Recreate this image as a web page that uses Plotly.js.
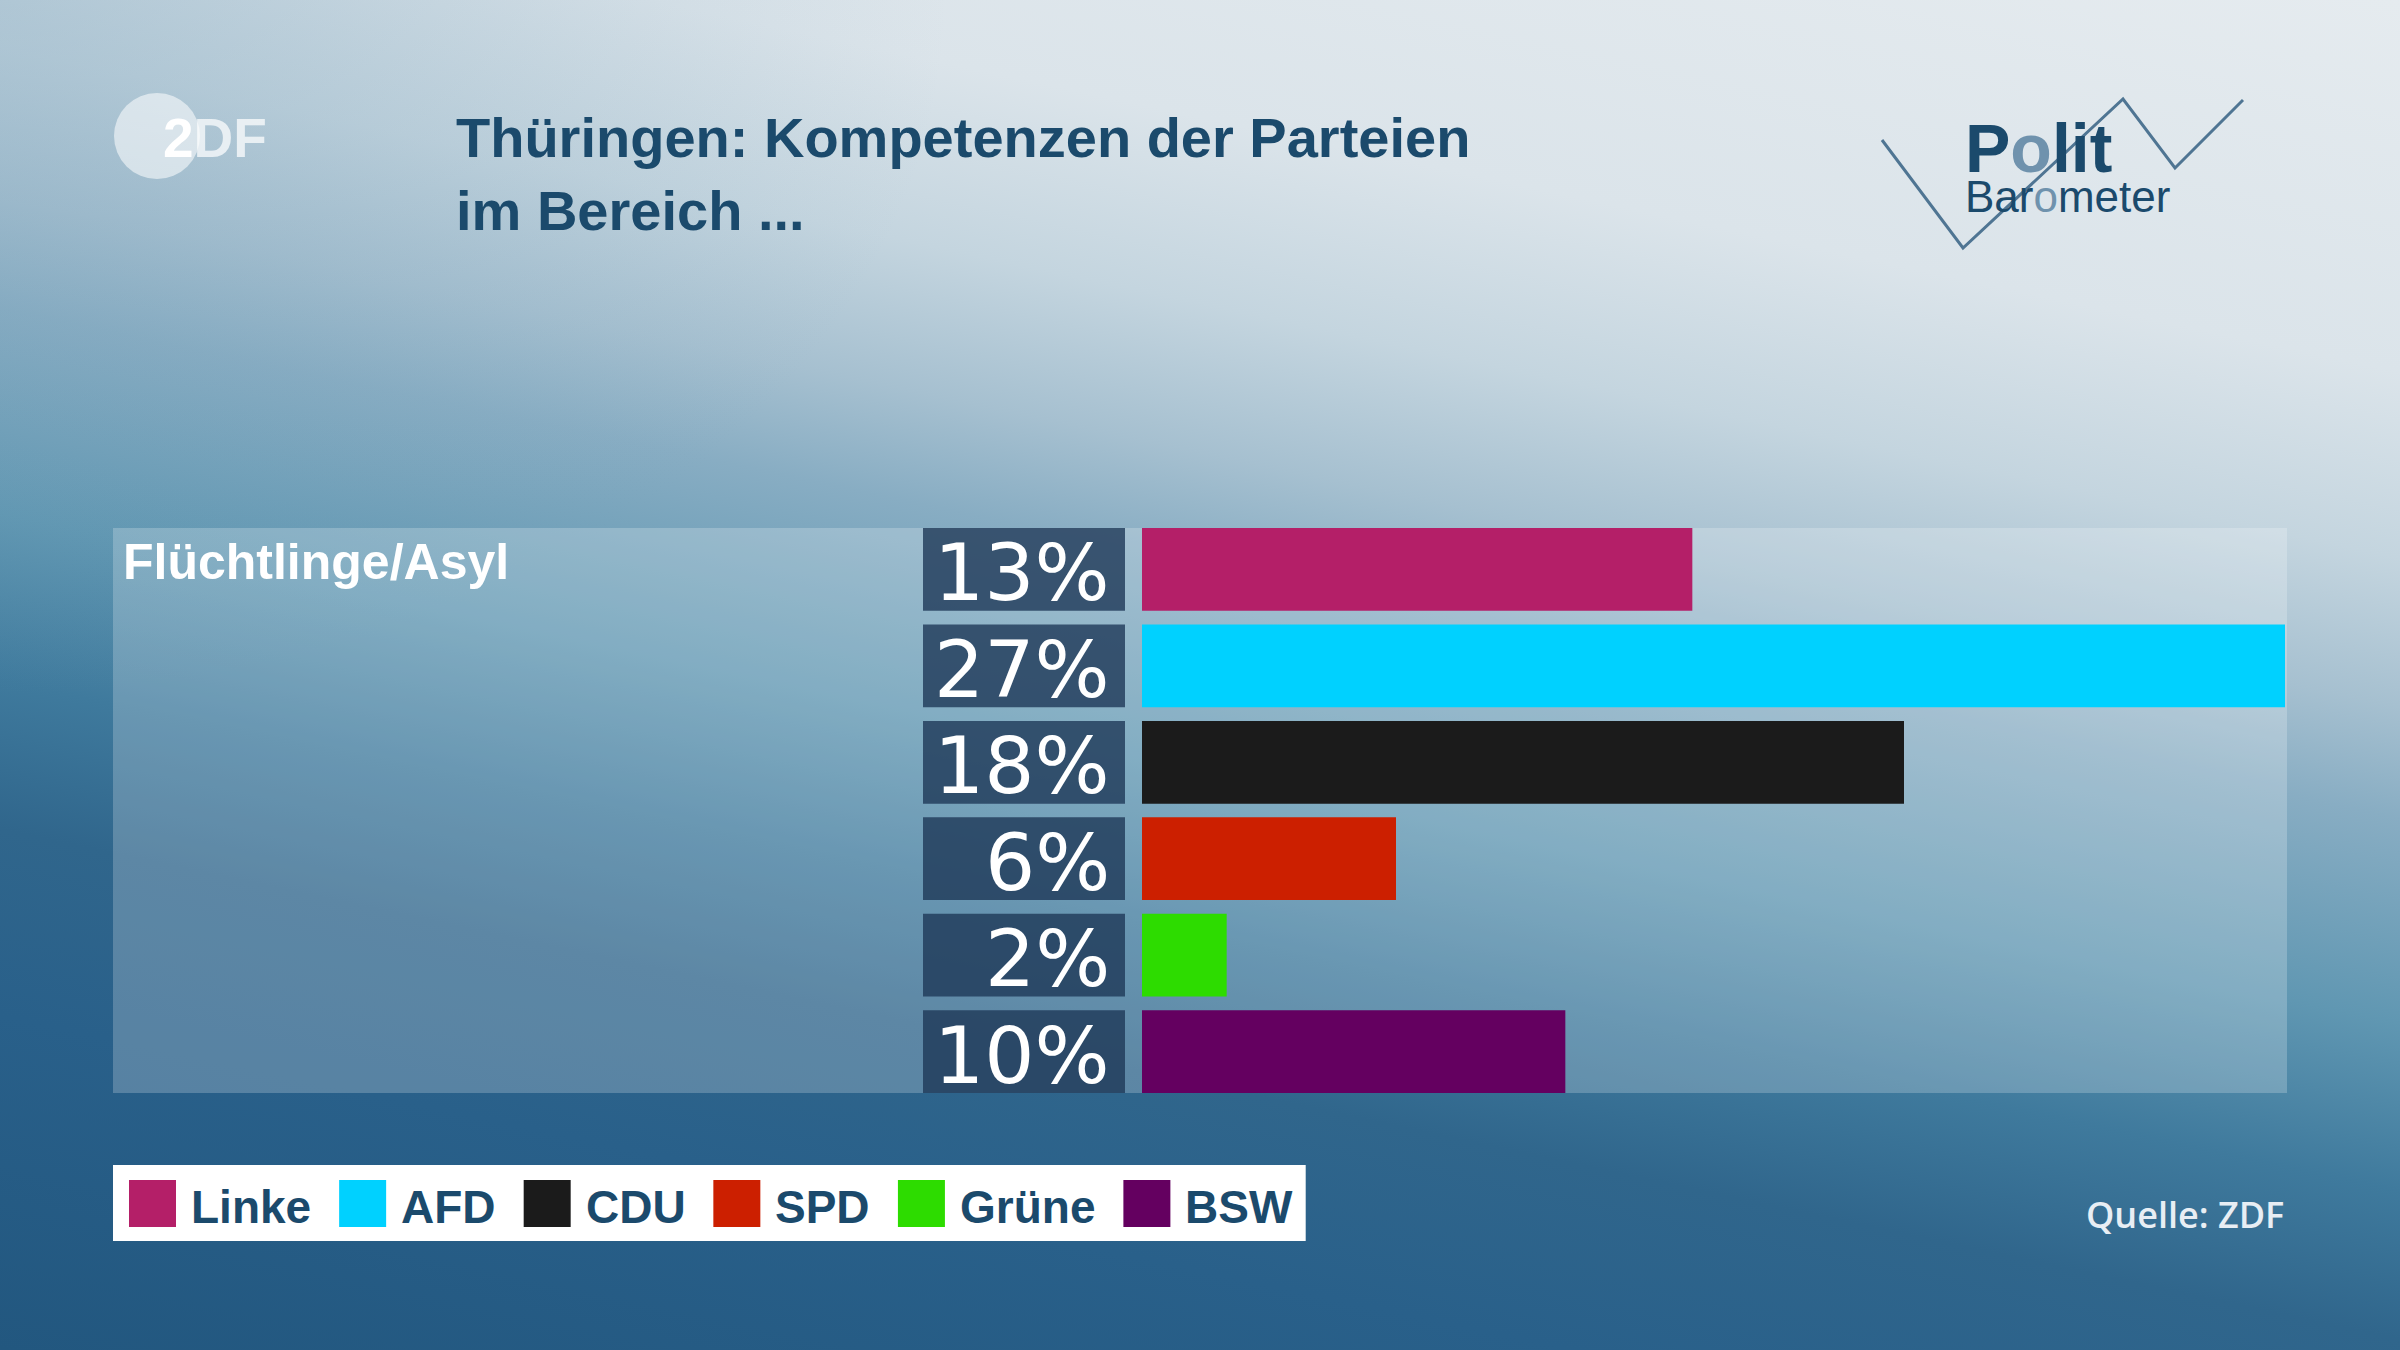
<!DOCTYPE html>
<html><head><meta charset="utf-8">
<script src="https://cdn.plot.ly/plotly-3.0.1.min.js"></script>
<style>
html,body{margin:0;padding:0;width:2400px;height:1350px;overflow:hidden;}
body{background:
  radial-gradient(ellipse 950px 700px at 0% 0%, rgba(120,160,185,0.32), rgba(120,160,185,0) 100%),
  linear-gradient(192deg, #e5ebef 0%, #dbe4ea 20%, #c4d5df 30%, #a6c0d0 38%, #88adc3 44%, #6097b2 55%, #3f7a9d 64%, #30668c 72%, #29608a 82%, #22577f 100%);}
#chart{width:2400px;height:1350px;}
</style></head><body><div id="chart"></div>
<script>
// ---- data ----
const titleText = 'Thüringen: Kompetenzen der Parteien<br>im Bereich ...';
const topic = 'Flüchtlinge/Asyl';
const parties = ['Linke', 'AFD', 'CDU', 'SPD', 'Grüne', 'BSW'];
const values = [13, 27, 18, 6, 2, 10];
const partyColors = ['#b41f68', '#00d1ff', '#1b1b1b', '#cc1f00', '#2ddc00', '#640060'];
const sourceText = 'Quelle: ZDF';

// ---- layout helpers (pixel -> paper) ----
const W = 2400, H = 1350;
const px = x => x / W;
const py = y => 1 - y / H;
const navy = '#1b4a6c';
const lightO = '#6f92ad';

const traces = [
  { // dark label boxes
    type: 'bar', orientation: 'h', y: parties, x: parties.map(() => 1),
    xaxis: 'x2', yaxis: 'y', marker: { color: 'rgba(30,56,88,0.8)' },
    hoverinfo: 'skip', showlegend: false
  },
  { // party bars
    type: 'bar', orientation: 'h', y: parties, x: values,
    xaxis: 'x', yaxis: 'y', marker: { color: partyColors },
    hoverinfo: 'skip', showlegend: false
  }
];

const shapes = [];
const annotations = [];

// percentage labels in the dark boxes
parties.forEach((p, i) => {
  annotations.push({ xref: 'x2', yref: 'y', x: 0.935, y: p, xanchor: 'right', yanchor: 'middle',
    yshift: -4, text: values[i] + '%', showarrow: false,
    font: { family: 'DejaVu Sans', size: 79, color: '#ffffff' } });
});

// ---- legend built from parties / colors, spaced by measured text widths ----
const legendFont = { family: 'Liberation Sans', size: 46, color: navy, weight: 'bold' };
const cv = document.createElement('canvas').getContext('2d');
cv.font = 'bold 46px "Liberation Sans"';
let lx = 129;
const swTop = 1180, swSize = 47;
parties.forEach((p, i) => {
  shapes.push({ type: 'rect', xref: 'paper', yref: 'paper', layer: 'above',
    x0: px(lx), x1: px(lx + swSize), y0: py(swTop + swSize), y1: py(swTop),
    fillcolor: partyColors[i], line: { width: 0 } });
  const tx = lx + swSize + 13;
  annotations.push({ xref: 'paper', yref: 'paper', x: px(tx), y: py(swTop + swSize / 2 + 3),
    xanchor: 'left', yanchor: 'middle', text: p, showarrow: false, font: legendFont });
  const tw = cv.measureText(p).width;
  lx = tx + tw + 30;
});
const legendRight = lx - 30 + 15;

// panel, legend box, ZDF circle (below traces)
shapes.unshift(
  { type: 'rect', xref: 'paper', yref: 'paper', layer: 'below',
    x0: px(113), x1: px(2287), y0: py(1093), y1: py(528),
    fillcolor: 'rgba(255,255,255,0.22)', line: { width: 0 } },
  { type: 'rect', xref: 'paper', yref: 'paper', layer: 'below',
    x0: px(113), x1: px(legendRight), y0: py(1241), y1: py(1165),
    fillcolor: '#ffffff', line: { width: 0 } },
  { type: 'circle', xref: 'paper', yref: 'paper', layer: 'below',
    x0: px(114), x1: px(200), y0: py(179), y1: py(93),
    fillcolor: 'rgba(255,255,255,0.55)', line: { width: 0 } }
);
// Politbarometer zigzag
const zz = [[1882, 140], [1963, 248], [2123, 99], [2175, 168], [2243, 100]];
shapes.push({ type: 'path', xref: 'paper', yref: 'paper', layer: 'above',
  path: zz.map((p, i) => (i ? 'L' : 'M') + px(p[0]) + ',' + py(p[1])).join(' '),
  line: { color: '#4f7593', width: 3 } });

annotations.push(
  { xref: 'paper', yref: 'paper', x: px(121), y: py(562), xanchor: 'left', yanchor: 'middle',
    text: topic, showarrow: false,
    font: { family: 'Liberation Sans', size: 50, color: '#ffffff', weight: 'bold' } },
  { xref: 'paper', yref: 'paper', x: px(161), y: py(138), xanchor: 'left', yanchor: 'middle',
    text: '2<span style="color:rgba(255,255,255,0.72)">DF</span>', showarrow: false,
    font: { family: 'Liberation Sans', size: 55, color: '#ffffff', weight: 'bold' } },
  { xref: 'paper', yref: 'paper', x: px(1963), y: py(166), xanchor: 'left', yanchor: 'middle',
    align: 'left', showarrow: false,
    text: '<span style="font-size:68px"><b>P<span style="color:' + lightO + '">o</span>lit</b></span><br>' +
          '<span style="font-size:44px">Bar<span style="color:' + lightO + '">o</span>meter</span>',
    font: { family: 'Liberation Sans', size: 31, color: navy } },
  { xref: 'paper', yref: 'paper', x: px(2286), y: py(1214), xanchor: 'right', yanchor: 'middle',
    text: sourceText, showarrow: false,
    font: { family: 'Open Sans', size: 36, color: '#e8eef4', weight: 600 } }
);

const layout = {
  width: W, height: H,
  margin: { l: 0, r: 0, t: 0, b: 0, pad: 0 },
  paper_bgcolor: 'rgba(0,0,0,0)', plot_bgcolor: 'rgba(0,0,0,0)',
  showlegend: false,
  bargap: 0.142,
  title: { text: titleText, x: px(456), xanchor: 'left', xref: 'paper',
    y: py(157), yanchor: 'top', yref: 'paper',
    font: { family: 'Liberation Sans', size: 56, color: navy, weight: 'bold' } },
  xaxis: { domain: [px(1142), px(2285)], range: [0, Math.max(...values)], visible: false, fixedrange: true },
  xaxis2: { domain: [px(923), px(1125)], range: [0, 1], visible: false, anchor: 'y', fixedrange: true },
  yaxis: { type: 'category', range: [parties.length - 0.5, -0.5], domain: [py(1099.85), py(521.15)],
    showticklabels: false, showgrid: false, zeroline: false, showline: false, fixedrange: true },
  shapes: shapes,
  annotations: annotations
};

Plotly.newPlot('chart', traces, layout, { displayModeBar: false, staticPlot: true });
</script>
</body></html>
